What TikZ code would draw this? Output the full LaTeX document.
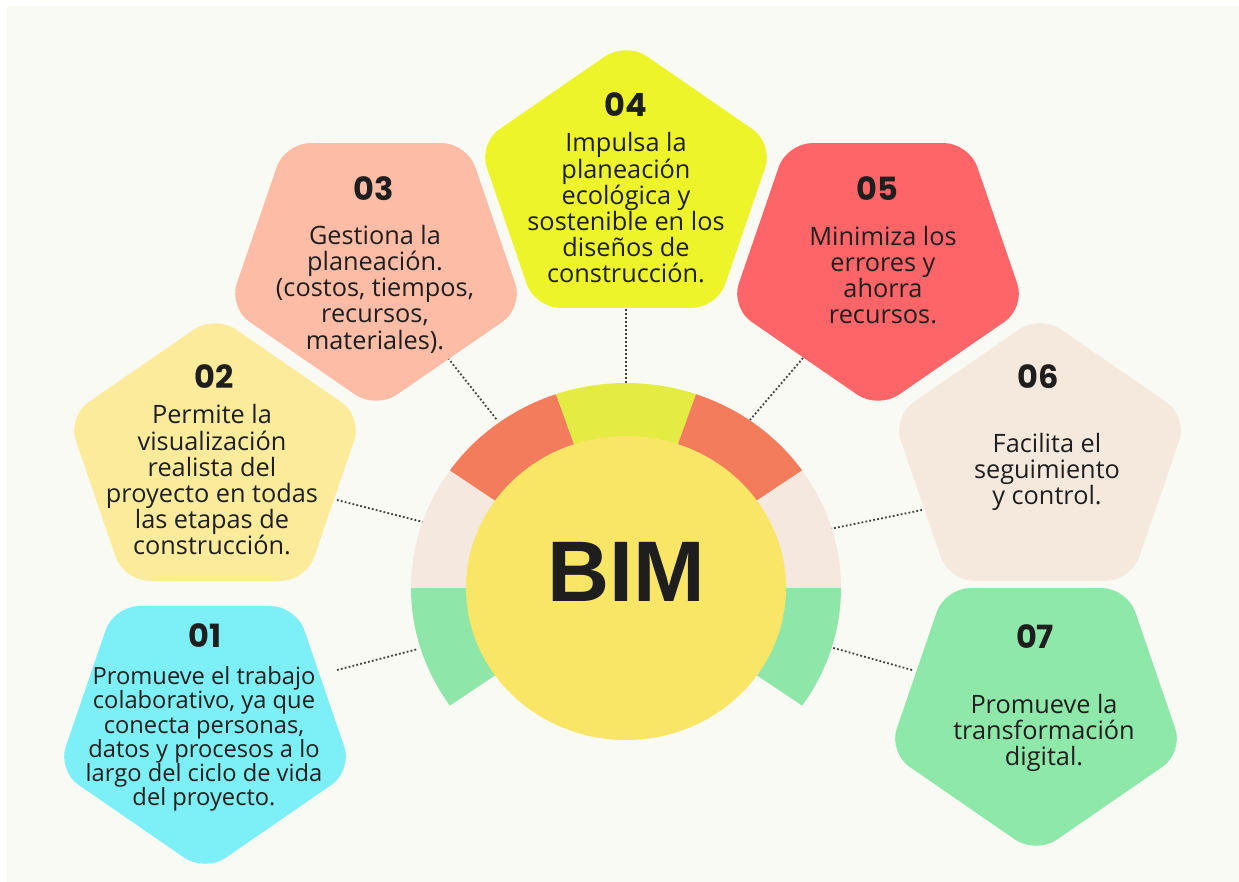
\documentclass[tikz,border=0pt]{standalone}
\usepackage{fontspec}
\setmainfont{Open Sans}
\newfontfamily\numfont{Poppins}
\newfontfamily\bimfont{Liberation Sans}
\definecolor{bgcol}{HTML}{FAFAF4}
\definecolor{pA}{HTML}{7DEFF6}
\definecolor{pB}{HTML}{FDEB9C}
\definecolor{pC}{HTML}{FDBCA6}
\definecolor{pD}{HTML}{EEF42A}
\definecolor{pE}{HTML}{FE6568}
\definecolor{pF}{HTML}{F5E9DD}
\definecolor{pG}{HTML}{8EE8A9}
\definecolor{rOr}{HTML}{F27C5C}
\definecolor{rYe}{HTML}{E4EB42}
\definecolor{rBe}{HTML}{F5E8DF}
\definecolor{rGr}{HTML}{8EE6A8}
\definecolor{cYe}{HTML}{F9E666}
\definecolor{ink}{HTML}{1E1E1E}
\tikzset{
  pentdown/.pic={\fill[rounded corners=25pt] (-91.1,118.9) -- (91.1,118.9) -- (147.4,-45.4) -- (0,-147) -- (-147.4,-45.4) -- cycle;},
  pentup/.pic={\fill[rounded corners=25pt] (0,147) -- (147.4,45.4) -- (91.1,-118.9) -- (-91.1,-118.9) -- (-147.4,45.4) -- cycle;},
  txt/.style={align=center, inner sep=0pt, text=ink, font=\fontsize{25.3}{26.2}\selectfont},
  num/.style={inner sep=0pt, text=ink, font=\numfont\bfseries\fontsize{32}{32}\selectfont},
  conn/.style={draw=ink!85, line width=1.8pt, dash pattern=on 1.8pt off 2.2pt},
}
\begin{document}
\begin{tikzpicture}[x=1pt,y=1pt]
\useasboundingbox (0,0) rectangle (1239,-882);
\fill[white] (0,0) rectangle (1239,-882);
\fill[bgcol] (7,-6) rectangle (1239,-882);
% connectors
\coordinate (a1) at (337,-670); \coordinate (b1) at (418,-649);
\coordinate (a2) at (337,-500); \coordinate (b2) at (423,-522);
\coordinate (a3) at (448,-358); \coordinate (b3) at (497,-420);
\coordinate (a4) at (626,-305); \coordinate (b4) at (626,-385);
\coordinate (a5) at (803,-358); \coordinate (b5) at (750,-420);
\coordinate (a6) at (922,-510); \coordinate (b6) at (830,-529);
\coordinate (a7) at (912,-670); \coordinate (b7) at (830,-647);
\foreach \i in {1,...,7} {\draw[conn] (a\i) -- (b\i);}
% pentagons
\pic[fill=pA] at (205,-725) {pentdown};
\pic[fill=pB] at (215,-462) {pentup};
\pic[fill=pC] at (376,-262) {pentdown};
\pic[fill=pD] at (626,-189) {pentup};
\pic[fill=pE] at (878,-262) {pentdown};
\pic[fill=pF] at (1040,-462) {pentup};
\pic[fill=pG] at (1036,-707) {pentdown};
% ring
\coordinate (c) at (626,-588);
\fill[rGr] (c) -- ++(180:215 and 205) arc[start angle=180, end angle=215, x radius=215, y radius=205] -- cycle;
\fill[rBe] (c) -- ++(145:215 and 205) arc[start angle=145, end angle=180, x radius=215, y radius=205] -- cycle;
\fill[rOr] (c) -- ++(109:215 and 205) arc[start angle=109, end angle=145, x radius=215, y radius=205] -- cycle;
\fill[rYe] (c) -- ++(71:215 and 205) arc[start angle=71, end angle=109, x radius=215, y radius=205] -- cycle;
\fill[rOr] (c) -- ++(35:215 and 205) arc[start angle=35, end angle=71, x radius=215, y radius=205] -- cycle;
\fill[rBe] (c) -- ++(0:215 and 205) arc[start angle=0, end angle=35, x radius=215, y radius=205] -- cycle;
\fill[rGr] (c) -- ++(-35:215 and 205) arc[start angle=-35, end angle=0, x radius=215, y radius=205] -- cycle;
\fill[cYe] (c) ellipse[x radius=160, y radius=152];
\node[inner sep=0pt, text=ink, font=\bimfont\bfseries\fontsize{86}{86}\selectfont] (bim) at (626,-572) {BIM};
% numbers
\node[num] (n1) at (205,-636) {01};
\node[num] (n2) at (214,-377) {02};
\node[num] (n3) at (374,-189) {03};
\node[num] (n4) at (626,-105) {04};
\node[num] (n5) at (877,-189) {05};
\node[num] (n6) at (1038,-377) {06};
\node[num] (n7) at (1035,-637) {07};
% texts
\node[txt, font=\fontsize{23.7}{24.2}\selectfont] (t1) at (204,-739) {Promueve el trabajo\\colaborativo, ya que\\conecta personas,\\datos y procesos a lo\\largo del ciclo de vida\\del proyecto.};
\node[txt] (t2) at (212,-480) {Permite la\\visualización\\realista del\\proyecto en todas\\las etapas de\\construcción.};
\node[txt] (t3) at (375,-289) {Gestiona la\\planeación.\\(costos, tiempos,\\recursos,\\materiales).};
\node[txt] (t4) at (626,-208) {Impulsa la\\planeación\\ecológica y\\sostenible en los\\diseños de\\construcción.};
\node[txt] (t5) at (883,-275) {Minimiza los\\errores y\\ahorra\\recursos.};
\node[txt] (t6) at (1047,-472) {Facilita el\\seguimiento\\y control.};
\node[txt] (t7) at (1044,-733) {Promueve la\\transformación\\digital.};
\end{tikzpicture}
\end{document}
